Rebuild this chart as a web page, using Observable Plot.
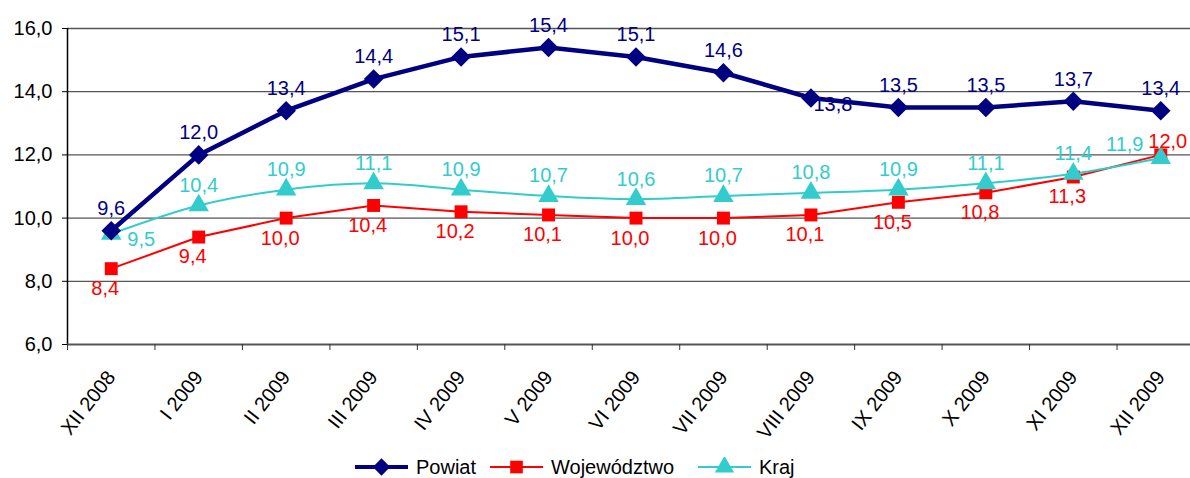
<!DOCTYPE html>
<html>
<head>
<meta charset="utf-8">
<script src="https://cdn.jsdelivr.net/npm/d3@7"></script>
<script src="https://cdn.jsdelivr.net/npm/@observablehq/plot@0.6"></script>
<style>
  body { margin: 0; background: #fff; font-family: "Liberation Sans", Arial, sans-serif; }
  #wrap { width: 1190px; height: 478px; overflow: hidden; position: relative; }
  #chart svg { max-width: none !important; }
  #legend { position: absolute; left: 355px; top: 457px; display: flex; align-items: center; font-size: 20px; line-height: 20px; color: #000; }
  .item { display: flex; align-items: center; }
  .item svg { margin-right: 8px; }
</style>
</head>
<body>
<div id="wrap"><div id="chart"></div><div id="legend"></div></div>
<script>
const categories = ["XII 2008","I 2009","II 2009","III 2009","IV 2009","V 2009","VI 2009","VII 2009","VIII 2009","IX 2009","X 2009","XI 2009","XII 2009"];
const powiat = [9.6,12.0,13.4,14.4,15.1,15.4,15.1,14.6,13.8,13.5,13.5,13.7,13.4];
const wojewodztwo = [8.4,9.4,10.0,10.4,10.2,10.1,10.0,10.0,10.1,10.5,10.8,11.3,12.0];
const kraj = [9.5,10.4,10.9,11.1,10.9,10.7,10.6,10.7,10.8,10.9,11.1,11.4,11.9];
const yTicks = [6,8,10,12,14,16];
const seriesNames = ["Powiat","Województwo","Kraj"];

const colors = {Powiat: "#000080", "Województwo": "#FF0000", Kraj: "#33CCCC"};
const fmt = v => d3.format(".1f")(v).replace(".", ",");

const rows = [];
[powiat, wojewodztwo, kraj].forEach((arr, s) => {
  arr.forEach((v, i) => rows.push({series: seriesNames[s], i, x: i + 0.5, cat: categories[i], v}));
});
const pRows = rows.filter(d => d.series === "Powiat");
const wRows = rows.filter(d => d.series === "Województwo");
const kRows = rows.filter(d => d.series === "Kraj");

// label placement (Excel-style nudges to avoid overlaps)
const last = categories.length - 1;
const pMain = pRows.filter(d => d.i !== 8), pSide = pRows.filter(d => d.i === 8);
const wMain = wRows.filter(d => d.i !== last), wUp = wRows.filter(d => d.i === last);
const kMain = kRows.filter(d => d.i !== 0 && d.i !== last), kRight = kRows.filter(d => d.i === 0), kLeft = kRows.filter(d => d.i === last);

const font = "Liberation Sans, Arial, sans-serif";
const FS = 20;
const chart = Plot.plot({
  width: 1204,
  height: 450,
  marginLeft: 67,
  marginRight: 0,
  marginTop: 28,
  marginBottom: 106,
  style: {fontFamily: font, fontSize: FS + "px", color: "#000", background: "#fff", overflow: "visible", maxWidth: "none"},
  x: {type: "linear", domain: [0, categories.length], axis: null},
  y: {domain: [6, 16], axis: null},
  marks: [
    Plot.gridY(yTicks.filter(t => t > 6), {stroke: "#555", strokeOpacity: 1, strokeWidth: 1.3}),
    Plot.axisY({ticks: yTicks, tickFormat: fmt, tickSize: 5, tickPadding: 10, fontSize: FS, stroke: "#000", label: null}),
    Plot.ruleX([0], {stroke: "#000", strokeWidth: 1.5}),
    Plot.ruleY([6], {stroke: "#555", strokeWidth: 2}),
    Plot.axisX({ticks: d3.range(categories.length + 1), tickFormat: () => "", tickSize: 6, stroke: "#333", label: null}),
    Plot.axisX({ticks: d3.range(categories.length).map(i => i + 0.5), tickFormat: t => categories[Math.floor(t)], tickSize: 0, tickPadding: 29, tickRotate: -52, fontSize: FS, label: null}),
    Plot.line(wRows, {x: "x", y: "v", stroke: colors["Województwo"], strokeWidth: 2}),
    Plot.line(kRows, {x: "x", y: "v", stroke: colors.Kraj, strokeWidth: 2, curve: "catmull-rom"}),
    Plot.line(pRows, {x: "x", y: "v", stroke: colors.Powiat, strokeWidth: 4.5}),
    Plot.dot(wRows, {x: "x", y: "v", symbol: "square", r: 7.3, fill: colors["Województwo"]}),
    Plot.dot(kRows, {x: "x", y: "v", symbol: "triangle", r: 7.6, fill: colors.Kraj}),
    Plot.dot(pRows, {x: "x", y: "v", symbol: "square", rotate: 45, r: 7.8, fill: colors.Powiat}),
    Plot.text(wMain, {x: "x", y: "v", text: d => fmt(d.v), fill: colors["Województwo"], dy: 20, dx: -6, fontSize: FS}),
    Plot.text(wUp, {x: "x", y: "v", text: d => fmt(d.v), fill: colors["Województwo"], dy: -13, dx: 7, fontSize: FS}),
    Plot.text(kMain, {x: "x", y: "v", text: d => fmt(d.v), fill: colors.Kraj, dy: -20, fontSize: FS}),
    Plot.text(kRight, {x: "x", y: "v", text: d => fmt(d.v), fill: colors.Kraj, dy: 6, dx: 30, fontSize: FS}),
    Plot.text(kLeft, {x: "x", y: "v", text: d => fmt(d.v), fill: colors.Kraj, dy: -13, dx: -36, fontSize: FS}),
    Plot.text(pMain, {x: "x", y: "v", text: d => fmt(d.v), fill: colors.Powiat, dy: -22, fontSize: FS}),
    Plot.text(pSide, {x: "x", y: "v", text: d => fmt(d.v), fill: colors.Powiat, dy: 7, dx: 22, fontSize: FS})
  ]
});
document.getElementById("chart").appendChild(chart);

// legend
const legend = d3.select("#legend");
const symbols = {Powiat: d3.symbolSquare, "Województwo": d3.symbolSquare, Kraj: d3.symbolTriangle};
const symSize = {Powiat: 150, "Województwo": 160, Kraj: 160};
const symRot = {Powiat: 45, "Województwo": 0, Kraj: 0};
const lineW = {Powiat: 4, "Województwo": 2, Kraj: 2};
const itemW = {Powiat: 135, "Województwo": 208, Kraj: 110};
seriesNames.forEach(name => {
  const it = legend.append("div").attr("class", "item").style("width", itemW[name] + "px");
  const s = it.append("svg").attr("width", 53).attr("height", 20);
  s.append("line").attr("x1", 0).attr("x2", 53).attr("y1", 10).attr("y2", 10).attr("stroke", colors[name]).attr("stroke-width", lineW[name]);
  s.append("path").attr("transform", `translate(26.5,10) rotate(${symRot[name]})`).attr("d", d3.symbol(symbols[name], symSize[name])()).attr("fill", colors[name]);
  it.append("span").text(name);
});
</script>
</body>
</html>
